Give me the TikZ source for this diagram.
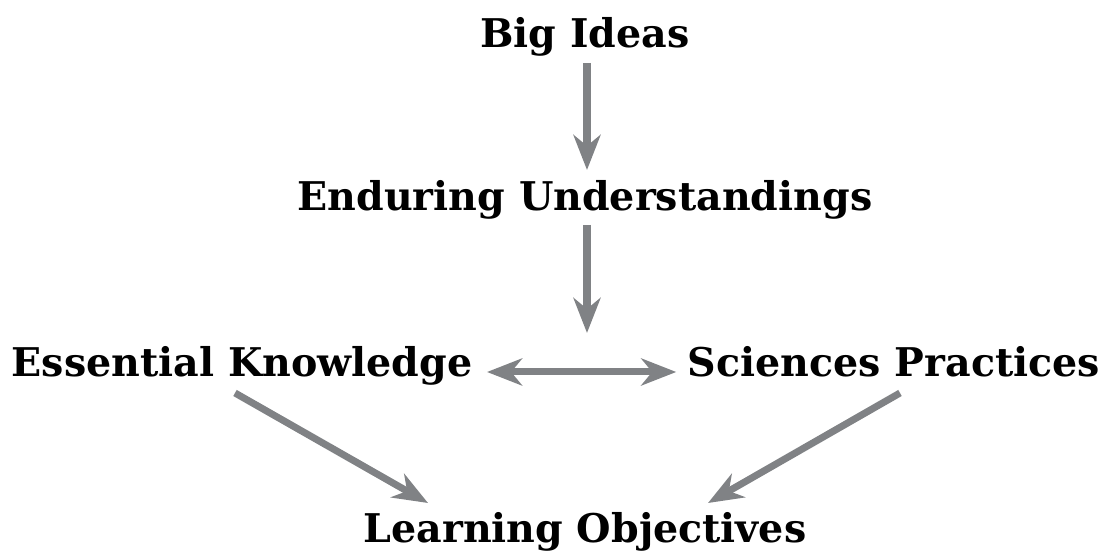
\documentclass[tikz,border=0pt]{standalone}
\usepackage{fontspec}
\setmainfont{DejaVu Serif}
\usetikzlibrary{arrows.meta,calc}
\definecolor{arrgray}{HTML}{808285}
\tikzset{gtip/.tip={Stealth[length=0.35cm,width=0.27cm,inset=0.11cm]}}
\begin{document}
\begin{tikzpicture}[x=0.01cm,y=-0.01cm,
  lbl/.style={inner sep=0pt,anchor=base,font=\fontsize{11.25}{13}\selectfont\bfseries},
  arr/.style={draw=arrgray,line width=0.07cm,-{gtip}},
  darr/.style={draw=arrgray,line width=0.07cm,{gtip}-{gtip}}]
\useasboundingbox (0,0) rectangle (1099,552);
\node[lbl] (big) at (585,48) {Big Ideas};
\node[lbl] (eu) at (585,211) {Enduring Understandings};
\node[lbl] (ek) at (242,377) {Essential Knowledge};
\node[lbl] (sp) at (894,377) {Sciences Practices};
\node[lbl] (lo) at (585,543) {Learning Objectives};
\coordinate (mid) at (587,333);
\draw[arr] ($(big.base)+(2,15)$) -- ($(eu.base)+(2,-41)$);
\draw[arr] ($(eu.base)+(2,14)$) -- (mid);
\draw[darr] ($(ek.base east)+(14,-5)$) -- ($(sp.base west)+(-11,-5)$);
\draw[arr] ($(ek.base)+(-7,16)$) -- ($(lo.base)+(-157,-40)$);
\draw[arr] ($(sp.base)+(6,16)$) -- ($(lo.base)+(123,-40)$);
\end{tikzpicture}
\end{document}
